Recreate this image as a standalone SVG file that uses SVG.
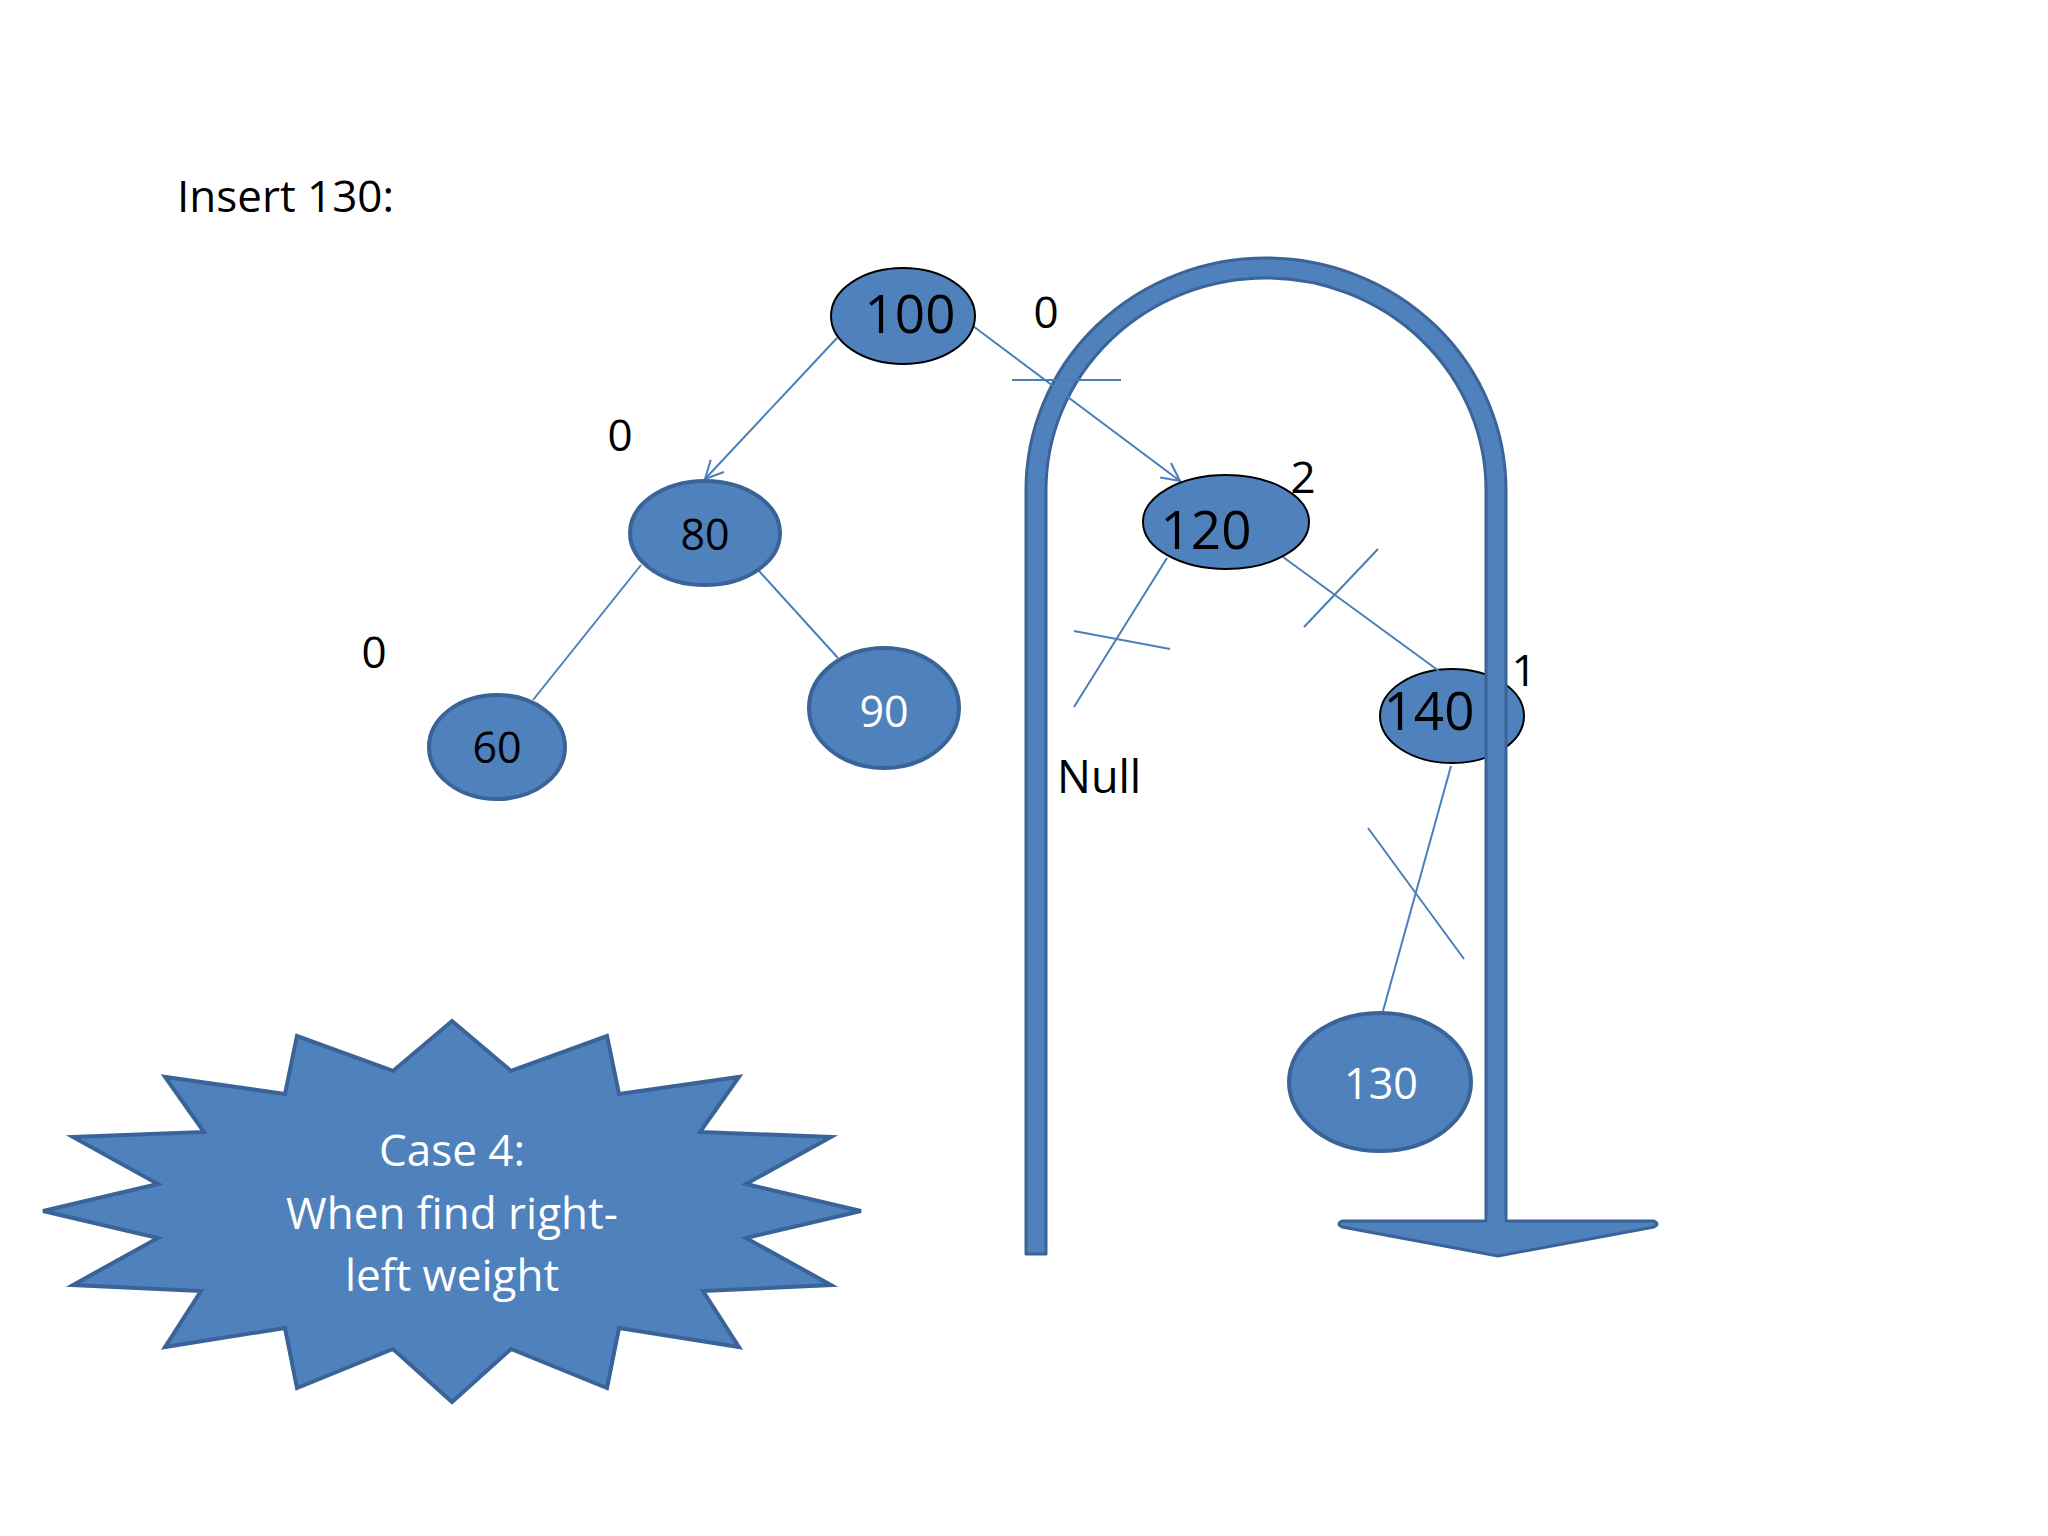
<svg xmlns="http://www.w3.org/2000/svg" width="2048" height="1536" viewBox="0 0 2048 1536">
<defs>
<style>
.t{font-family:"Open Sans","Liberation Sans",sans-serif;fill:#000}
.w{fill:#fff}
.nb{fill:#4f81bd;stroke:#000;stroke-width:2}
.nd{fill:#4f81bd;stroke:#3a6497;stroke-width:4}
.c{stroke:#4a7ebb;stroke-width:2;fill:none}
</style>
<marker id="ah" markerUnits="userSpaceOnUse" markerWidth="24" markerHeight="24" viewBox="0 0 24 24" refX="22" refY="12" orient="auto">
<path d="M4,3 L22,12 L4,21" fill="none" stroke="#4a7ebb" stroke-width="2"/>
</marker>
</defs>
<rect width="2048" height="1536" fill="#fff"/>
<text class="t" x="177" y="212" font-size="44">Insert 130:</text>

<g id="node-140">
<ellipse class="nb" cx="1452" cy="716" rx="72" ry="47"/>
<text class="t" x="1429" y="730" font-size="53" text-anchor="middle">140</text>
</g>

<g id="u-arrow">
<path d="M1026 1254 L1026 490 A240 232 0 0 1 1506 490 L1506 1221 L1654 1221 Q1660 1224 1654 1227 L1498 1256 L1342 1227 Q1336 1224 1342 1221 L1486 1221 L1486 490 A220 212 0 0 0 1046 490 L1046 1254 Z" fill="#4f81bd" stroke="#3a6497" stroke-width="3" stroke-linejoin="round"/>
</g>

<g id="connectors">
<line class="c" x1="837" y1="338" x2="705" y2="479" marker-end="url(#ah)"/>
<line class="c" x1="973" y1="326" x2="1180" y2="481" marker-end="url(#ah)"/>
<line class="c" x1="1012" y1="380" x2="1121" y2="380"/>
<line class="c" x1="641" y1="565" x2="533" y2="700"/>
<line class="c" x1="759" y1="571" x2="838" y2="658"/>
<line class="c" x1="1167" y1="558" x2="1074" y2="707"/>
<line class="c" x1="1074" y1="631" x2="1170" y2="649"/>
<line class="c" x1="1283" y1="557" x2="1439" y2="671"/>
<line class="c" x1="1304" y1="627" x2="1378" y2="549"/>
<line class="c" x1="1451" y1="766" x2="1383" y2="1011"/>
<line class="c" x1="1368" y1="828" x2="1464" y2="959"/>
</g>

<g id="node-100">
<ellipse class="nb" cx="903" cy="316" rx="72" ry="48"/>
<text class="t" x="910" y="333" font-size="53" text-anchor="middle">100</text>
</g>
<g id="node-80">
<ellipse class="nd" cx="705" cy="533" rx="75" ry="52"/>
<text class="t" x="705" y="550" font-size="43" text-anchor="middle">80</text>
</g>
<g id="node-60">
<ellipse class="nd" cx="497" cy="747" rx="68" ry="52"/>
<text class="t" x="497" y="763" font-size="43" text-anchor="middle">60</text>
</g>
<g id="node-90">
<ellipse class="nd" cx="884" cy="708" rx="75" ry="60"/>
<text class="t w" x="884" y="727" font-size="43" text-anchor="middle">90</text>
</g>
<g id="node-120">
<ellipse class="nb" cx="1226" cy="522" rx="83" ry="47"/>
<text class="t" x="1206" y="549" font-size="53" text-anchor="middle">120</text>
</g>
<g id="node-130">
<ellipse class="nd" cx="1380" cy="1082" rx="91" ry="69"/>
<text class="t w" x="1381" y="1099" font-size="43" text-anchor="middle">130</text>
</g>

<g id="labels">
<text class="t" x="1046" y="328" font-size="44" text-anchor="middle">0</text>
<text class="t" x="620" y="451" font-size="44" text-anchor="middle">0</text>
<text class="t" x="374" y="668" font-size="44" text-anchor="middle">0</text>
<text class="t" x="1303" y="493" font-size="44" text-anchor="middle">2</text>
<text class="t" x="1524" y="686" font-size="44" text-anchor="middle">1</text>
<text class="t" x="1057" y="793" font-size="45">Null</text>
</g>

<g id="star">
<polygon points="452,1021 511,1071 607,1036 619,1094 739,1077 700,1132 831,1137 746,1184 861,1211 746,1238 831,1285 703,1291 739,1347 619,1328 607,1388 511,1349 452,1402 393,1349 297,1388 285,1328 165,1347 201,1291 73,1285 158,1238 43,1211 158,1184 73,1137 204,1132 165,1077 285,1094 297,1036 393,1071" fill="#4f81bd" stroke="#3a6497" stroke-width="4" stroke-linejoin="miter"/>
<text class="t w" x="452" y="1166" font-size="44" text-anchor="middle">Case 4:</text>
<text class="t w" x="452" y="1229" font-size="44" text-anchor="middle">When find right-</text>
<text class="t w" x="452" y="1291" font-size="44" text-anchor="middle">left weight</text>
</g>
</svg>
